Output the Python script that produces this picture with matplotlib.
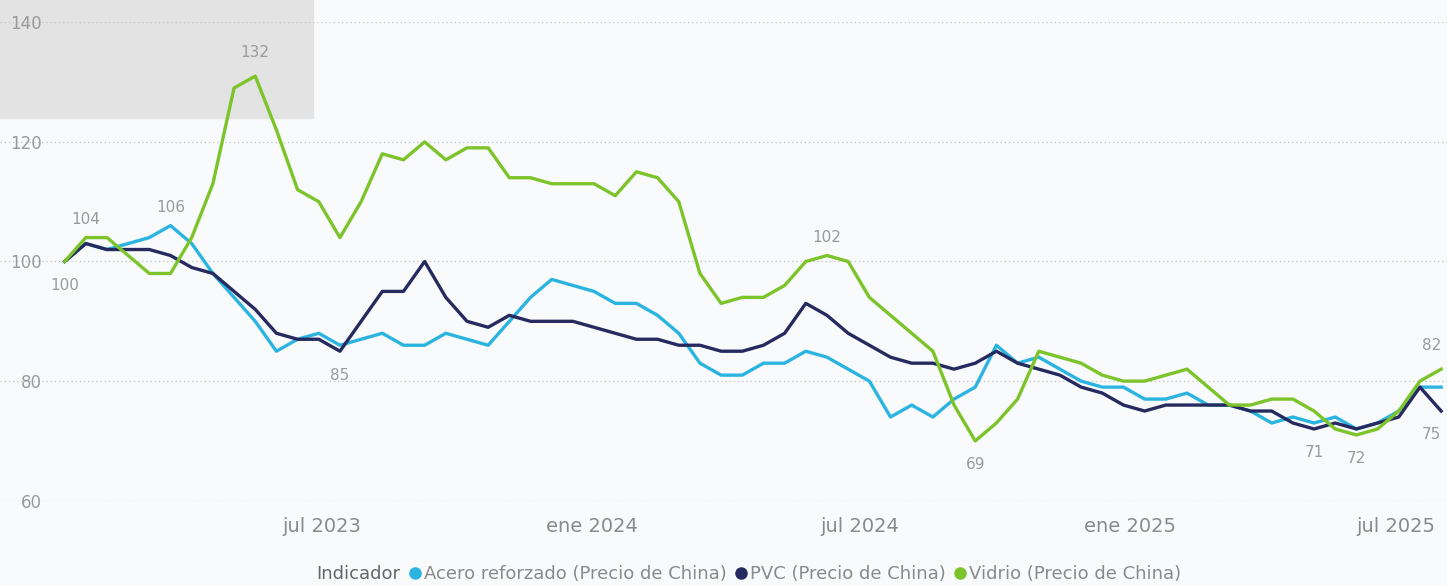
import numpy as np
import pandas as pd
import matplotlib
matplotlib.use("Agg")
import matplotlib.pyplot as plt
from matplotlib.patches import Rectangle

dates = pd.date_range("2023-01-07", "2025-08-01", periods=66)
acero = [100, 103, 102, 103, 104, 106, 103, 98, 94, 90, 85, 87, 88, 86, 87, 88, 86, 86, 88, 87,
         86, 90, 94, 97, 96, 95, 93, 93, 91, 88, 83, 81, 81, 83, 83, 85, 84, 82, 80, 74,
         76, 74, 77, 79, 86, 83, 84, 82, 80, 79, 79, 77, 77, 78, 76, 76, 75, 73, 74, 73,
         74, 72, 73, 75, 79, 79]
pvc = [100, 103, 102, 102, 102, 101, 99, 98, 95, 92, 88, 87, 87, 85, 90, 95, 95, 100, 94, 90,
       89, 91, 90, 90, 90, 89, 88, 87, 87, 86, 86, 85, 85, 86, 88, 93, 91, 88, 86, 84,
       83, 83, 82, 83, 85, 83, 82, 81, 79, 78, 76, 75, 76, 76, 76, 76, 75, 75, 73, 72,
       73, 72, 73, 74, 79, 75]
vidrio = [100, 104, 104, 101, 98, 98, 104, 113, 129, 131, 122, 112, 110, 104, 110, 118, 117, 120, 117, 119,
          119, 114, 114, 113, 113, 113, 111, 115, 114, 110, 98, 93, 94, 94, 96, 100, 101, 100, 94, 91,
          88, 85, 76, 70, 73, 77, 85, 84, 83, 81, 80, 80, 81, 82, 79, 76, 76, 77, 77, 75,
          72, 71, 72, 75, 80, 82]
labels = ["Acero reforzado (Precio de China)", "PVC (Precio de China)", "Vidrio (Precio de China)"]
colors = ["#2bb4e0", "#262a5e", "#7cc42a"]

# (series index, point index, text, dy, ha)
notes = [(0, 0, "100", -4, "center"), (2, 1, "104", 3, "center"), (0, 5, "106", 3, "center"),
         (2, 9, "132", 4, "center"), (1, 13, "85", -4, "center"), (2, 36, "102", 3, "center"),
         (2, 43, "69", -4, "center"), (1, 59, "71", -4, "center"), (2, 61, "72", -4, "center"),
         (2, 65, "82", 4, "right"), (1, 65, "75", -4, "right")]

fig = plt.figure(figsize=(14.47, 5.85), dpi=100)
fig.patch.set_facecolor("#f8fafc")
bg = fig.add_axes([0, 0, 1, 1], zorder=-5)
bg.axis("off")
bg.add_patch(Rectangle((0, 1 - 118 / 585), 313 / 1447, 118 / 585, color="#e3e3e3"))
bg.set_xlim(0, 1); bg.set_ylim(0, 1)

ax = fig.add_axes([0.0, 0.144, 1.0, 0.818])
ax.set_facecolor("none")
series = [acero, pvc, vidrio]
for s, lab, c in zip(series, labels, colors):
    ax.plot(dates, s, color=c, lw=2.4, label=lab)
for si, pi, t, dy, ha in notes:
    ax.text(dates[pi], series[si][pi] + dy, t, color="#9a9a9a", fontsize=11,
            ha=ha, va="center")

ax.set_ylim(60, 140)
ax.set_xlim(pd.Timestamp("2022-11-24"), pd.Timestamp("2025-08-05"))
ax.set_yticks([60, 80, 100, 120, 140])
ax.yaxis.grid(True, ls=(0, (1, 2)), color="#c8c8c8", lw=1)
ax.tick_params(axis="y", direction="in", pad=-30, labelsize=12, labelcolor="#9a9a9a", length=0)
ax.set_xticks(pd.to_datetime(["2023-07-01", "2024-01-01", "2024-07-01", "2025-01-01", "2025-07-01"]))
ax.set_xticklabels(["jul 2023", "ene 2024", "jul 2024", "ene 2025", "jul 2025"])
ax.tick_params(axis="x", length=0, labelsize=14, labelcolor="#8a8a8a", pad=12)
for sp in ax.spines.values():
    sp.set_visible(False)

handles = [plt.Line2D([], [], ls="", marker="")] + \
          [plt.Line2D([], [], marker="o", ls="", color=c, ms=8) for c in colors]
leg = fig.legend(handles=handles, labels=["Indicador"] + labels, loc="lower center",
                 bbox_to_anchor=(0.512, -0.025), ncol=4, frameon=False, handlelength=0.8,
                 handletextpad=0.1, columnspacing=0.4, fontsize=13)
for i, t in enumerate(leg.get_texts()):
    t.set_color("#666666" if i == 0 else "#8a8a8a")

fig.savefig("out.png", dpi=100, facecolor=fig.get_facecolor())
